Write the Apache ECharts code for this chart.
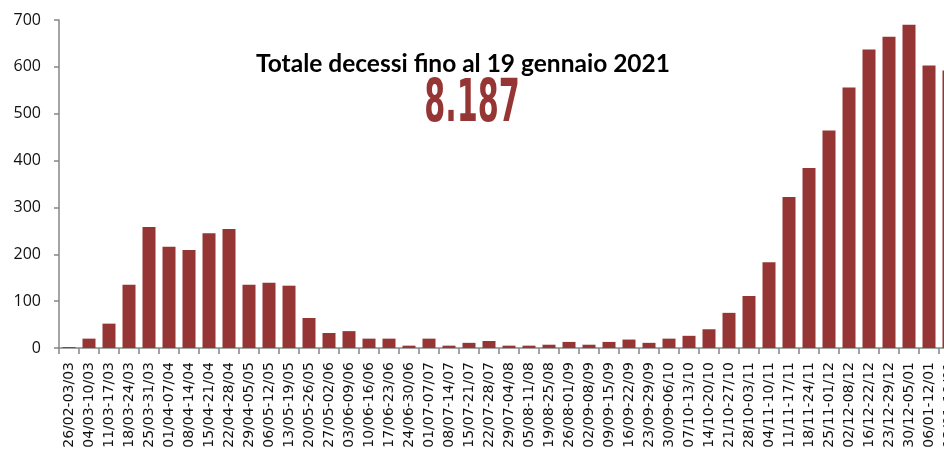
<!DOCTYPE html>
<html>
<head>
<meta charset="utf-8">
<script src="https://cdn.jsdelivr.net/npm/echarts@6/dist/echarts.min.js"></script>
<style>
  html, body { margin: 0; padding: 0; background: #fff; overflow: hidden; }
  #chart { width: 944px; height: 450px; }
</style>
</head>
<body>
<div id="chart"></div>
<script>
// settimane (categorie asse x)
var weeks = [
  '26/02-03/03', '04/03-10/03', '11/03-17/03', '18/03-24/03', '25/03-31/03',
  '01/04-07/04', '08/04-14/04', '15/04-21/04', '22/04-28/04', '29/04-05/05',
  '06/05-12/05', '13/05-19/05', '20/05-26/05', '27/05-02/06', '03/06-09/06',
  '10/06-16/06', '17/06-23/06', '24/06-30/06', '01/07-07/07', '08/07-14/07',
  '15/07-21/07', '22/07-28/07', '29/07-04/08', '05/08-11/08', '19/08-25/08',
  '26/08-01/09', '02/09-08/09', '09/09-15/09', '16/09-22/09', '23/09-29/09',
  '30/09-06/10', '07/10-13/10', '14/10-20/10', '21/10-27/10', '28/10-03/11',
  '04/11-10/11', '11/11-17/11', '18/11-24/11', '25/11-01/12', '02/12-08/12',
  '16/12-22/12', '23/12-29/12', '30/12-05/01', '06/01-12/01', '13/01-19/01'
]

// decessi settimanali
var deaths = [
  2, 20, 52, 135, 258, 216, 209, 245, 254, 135,
  139, 133, 64, 32, 36, 20, 20, 5, 20, 5,
  11, 15, 5, 5, 7, 13, 7, 13, 18, 11,
  20, 26, 40, 75, 111, 183, 322, 384, 464, 556,
  637, 664, 690, 603, 592
]

var yTicks = [0, 100, 200, 300, 400, 500, 600, 700]

var titleText = 'Totale decessi fino al 19 gennaio 2021'
var totalText = '8.187'

var chart = echarts.init(document.getElementById('chart'))

chart.setOption({
  animation: false,
  backgroundColor: '#fff',
  // il grafico originale è tagliato a destra: l'ultima settimana esce dal riquadro
  grid: {
    left: 59,
    top: 20,
    width: 900,
    height: 328,
    outerBoundsMode: 'none',
    containLabel: false
  },
  xAxis: {
    type: 'category',
    data: weeks,
    axisLine: { lineStyle: { color: '#868686', width: 1.5 } },
    axisTick: { show: true, length: 6, lineStyle: { color: '#868686', width: 1.5 } },
    axisLabel: {
      rotate: 90,
      interval: 0,
      margin: 14,
      color: '#111',
      fontSize: 14,
      fontFamily: 'DejaVu Sans'
    }
  },
  yAxis: {
    type: 'value',
    min: yTicks[0],
    max: yTicks[yTicks.length - 1],
    interval: 100,
    splitLine: { show: false },
    axisLine: { show: true, lineStyle: { color: '#868686', width: 1.5 } },
    axisTick: { show: true, length: 5, lineStyle: { color: '#868686', width: 1.5 } },
    axisLabel: {
      margin: 18,
      color: '#111',
      fontSize: 16,
      fontFamily: 'Open Sans'
    }
  },
  graphic: [
    {
      type: 'text',
      x: 463,
      y: 64,
      style: {
        text: titleText,
        font: 'bold 24.5px Lato',
        fill: '#000',
        align: 'center',
        verticalAlign: 'middle'
      }
    },
    {
      type: 'text',
      x: 472,
      y: 106,
      scaleX: 0.58,
      style: {
        text: totalText,
        font: 'bold 58px "DejaVu Sans Condensed"',
        fill: '#963634',
        align: 'center',
        verticalAlign: 'middle'
      }
    }
  ],
  series: [{
    type: 'bar',
    data: deaths,
    barWidth: 13,
    itemStyle: { color: '#963634' }
  }]
})
</script>
</body>
</html>
